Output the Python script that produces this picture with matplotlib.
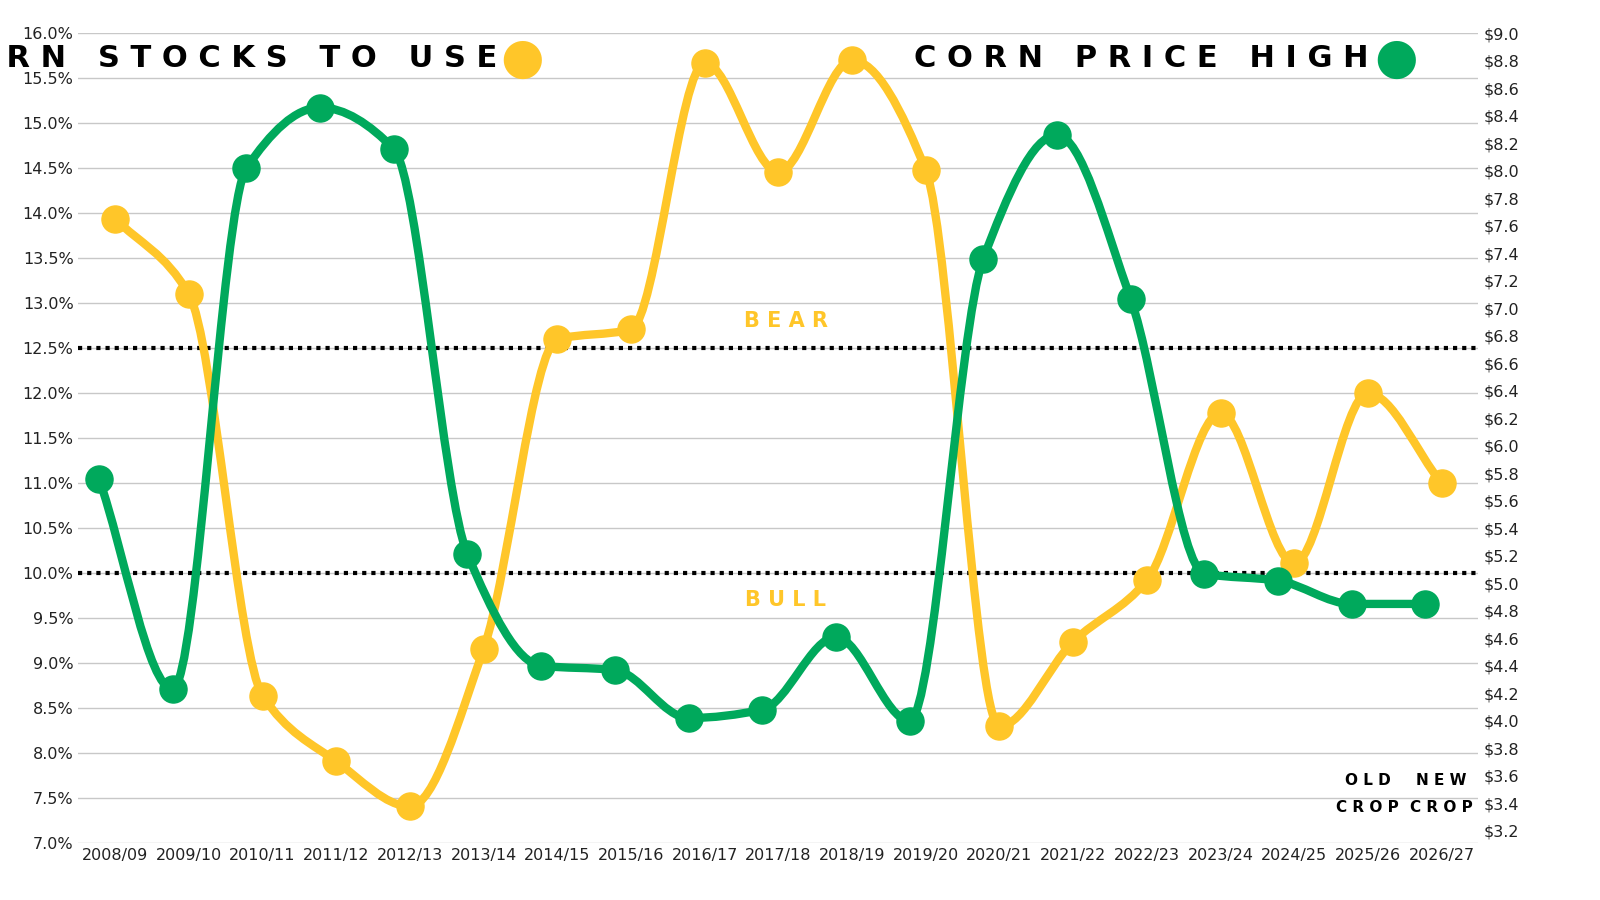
import numpy as np
import matplotlib
matplotlib.use("Agg")
import matplotlib.pyplot as plt
from matplotlib.path import Path
from matplotlib.patches import PathPatch

# Marketing years
years = ["2008/09", "2009/10", "2010/11", "2011/12", "2012/13", "2013/14", "2014/15",
         "2015/16", "2016/17", "2017/18", "2018/19", "2019/20", "2020/21", "2021/22",
         "2022/23", "2023/24", "2024/25", "2025/26", "2026/27"]

# Stocks to use (%) - left axis
stocks_to_use = [13.94, 13.10, 8.64, 7.91, 7.41, 9.16, 12.60, 12.71, 15.67, 14.46,
                 15.70, 14.48, 8.30, 9.24, 9.92, 11.78, 10.11, 12.00, 11.00]

# Corn price high ($) - right axis
price_high = [5.76, 4.23, 8.02, 8.46, 8.16, 5.21, 4.40, 4.37, 4.02, 4.08,
              4.61, 4.00, 7.36, 8.26, 7.07, 5.07, 5.02, 4.85, 4.85]

YELLOW = "#FFC629"
GREEN = "#00A95C"
TITLE_FONT = ["Liberation Sans Narrow", "DejaVu Sans Condensed", "DejaVu Sans"]


def smooth_path(x, y):
    # monotone cubic (Fritsch-Carlson) as Bezier segments, drawn by matplotlib
    x = np.asarray(x, float)
    y = np.asarray(y, float)
    h = np.diff(x)
    d = np.diff(y) / h
    m = np.zeros_like(y)
    m[0], m[-1] = d[0], d[-1]
    for i in range(1, len(y) - 1):
        if d[i - 1] * d[i] <= 0:
            m[i] = 0
        else:
            m[i] = 2 / (1 / d[i - 1] + 1 / d[i])
    verts = [(x[0], y[0])]
    codes = [Path.MOVETO]
    for i in range(len(x) - 1):
        verts += [(x[i] + h[i] / 3, y[i] + m[i] * h[i] / 3),
                  (x[i + 1] - h[i] / 3, y[i + 1] - m[i + 1] * h[i] / 3),
                  (x[i + 1], y[i + 1])]
        codes += [Path.CURVE4] * 3
    return Path(verts, codes)


fig = plt.figure(figsize=(16, 9), dpi=100)
ax = fig.add_axes([0.049, 0.063, 0.875, 0.9])
ax2 = ax.twinx()

xs = np.arange(len(years))

ax.set_xlim(-0.5, 18.5)
ax.set_ylim(7.0, 16.0)
ax.set_yticks(np.arange(7.0, 16.01, 0.5))
ax.set_yticklabels([f"{v:.1f}%" for v in np.arange(7.0, 16.01, 0.5)])
ax.set_xticks(xs)
ax.set_xticklabels(years)
ax.grid(axis="y", color="#c8c8c8", lw=1)
ax.set_axisbelow(True)

ax2.set_ylim(9.0 - 810 / 137.5, 9.0)
ax2.set_yticks(np.arange(3.2, 9.01, 0.2))
ax2.set_yticklabels([f"${v:.1f}" for v in np.arange(3.2, 9.01, 0.2)])

for a in (ax, ax2):
    for s in a.spines.values():
        s.set_visible(False)
    a.tick_params(length=0, labelsize=11.5, colors="#222222")

# threshold lines
ax.axhline(12.5, color="black", lw=3, ls=(0, (1, 1.2)), clip_on=False)
ax.axhline(10.0, color="black", lw=3, ls=(0, (1, 1.2)), clip_on=False)
ax.text(9.1, 12.8, "B E A R", color=YELLOW, fontsize=15, fontweight="bold",
        family=TITLE_FONT, ha="center", va="center")
ax.text(9.1, 9.7, "B U L L", color=YELLOW, fontsize=15, fontweight="bold",
        family=TITLE_FONT, ha="center", va="center")

# stocks to use line
ax.add_patch(PathPatch(smooth_path(xs, stocks_to_use), fill=False, ec=YELLOW, lw=6, zorder=3))
ax.scatter(xs, stocks_to_use, s=380, color=YELLOW, zorder=4)

# price line (slightly offset to the left as in the original)
gx = xs - 0.22
ax2.add_patch(PathPatch(smooth_path(gx, price_high), fill=False, ec=GREEN, lw=6, zorder=3))
ax2.scatter(gx, price_high, s=380, color=GREEN, zorder=4)

# titles
fig.text(0.311, 0.935, "C O R N   S T O C K S   T O   U S E", fontsize=22, fontweight="bold",
         family=TITLE_FONT, ha="right", va="center")
fig.text(0.3265, 0.935, "\u25CF", color=YELLOW, fontsize=36, ha="center", va="center")
fig.text(0.855, 0.935, "C O R N   P R I C E   H I G H", fontsize=22, fontweight="bold",
         family=TITLE_FONT, ha="right", va="center")
fig.text(0.8725, 0.935, "\u25CF", color=GREEN, fontsize=36, ha="center", va="center")

ax.text(17, 7.55, "O L D\nC R O P", ha="center", va="center", fontsize=11, fontweight="bold",
        family=TITLE_FONT, linespacing=2)
ax.text(18, 7.55, "N E W\nC R O P", ha="center", va="center", fontsize=11, fontweight="bold",
        family=TITLE_FONT, linespacing=2)

fig.savefig("out.png", dpi=100, facecolor="white")
